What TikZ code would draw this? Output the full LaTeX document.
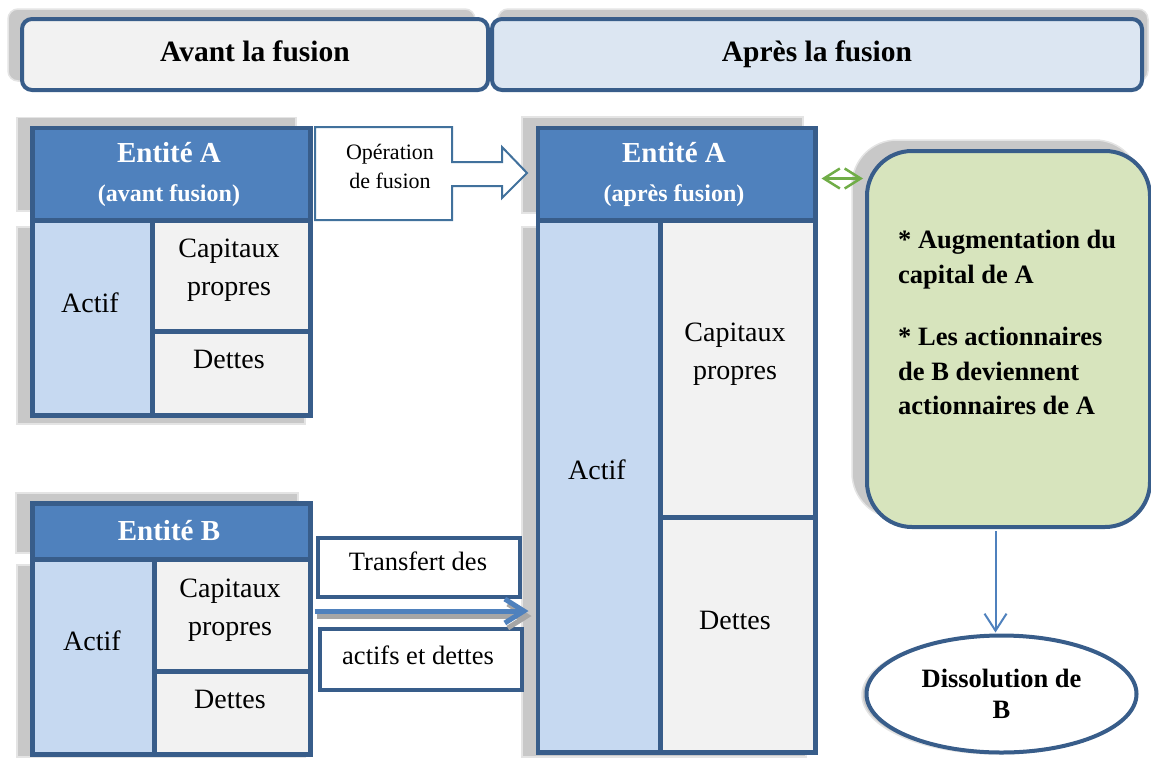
\documentclass[tikz,border=0pt]{standalone}
\usepackage{fontspec}
\setmainfont{Liberation Serif}
\usetikzlibrary{shapes.geometric,arrows.meta,calc}
\definecolor{dblue}{HTML}{385D8A}
\definecolor{mblue}{HTML}{4F81BD}
\definecolor{lblue}{HTML}{C6D9F1}
\definecolor{lgray}{HTML}{F2F2F2}
\definecolor{hblue}{HTML}{DCE6F2}
\definecolor{gfill}{HTML}{D7E4BD}
\definecolor{garr}{HTML}{70AD47}
\definecolor{oparr}{HTML}{41719C}
\definecolor{shgray}{HTML}{C8C8C8}
\definecolor{shline}{HTML}{E4E4E4}
\begin{document}
\begin{tikzpicture}[x=1pt,y=-1pt,
  shad/.style={fill=shgray, draw=shline, line width=1.5pt},
  hdrbox/.style={draw=dblue, line width=4pt, rounded corners=10pt, anchor=north west, inner sep=0pt,
    text height=20pt, text depth=6pt, font=\fontsize{29.5}{33}\selectfont\bfseries},
  titlebox/.style={draw=dblue, fill=mblue, line width=4.5pt, anchor=north west, inner sep=0pt},
  titletxt/.style={text=white, align=center, inner sep=0pt, font=\fontsize{29}{35}\selectfont\bfseries},
  cellbox/.style={draw=dblue, line width=4.5pt, inner sep=0pt, anchor=north west},
  celltxt/.style={font=\fontsize{28}{38}\selectfont, align=center, inner sep=0pt},
  trbox/.style={draw=dblue, fill=white, line width=4.5pt, inner sep=0pt, anchor=north west},
  trtxt/.style={font=\fontsize{26.5}{30}\selectfont, inner sep=0pt}
]
\useasboundingbox (0,0) rectangle (1151,758);

% ---------- shadows ----------
\draw[shad, rounded corners=10pt] (8,9) rectangle (475,81);
\draw[shad, rounded corners=10pt] (498,9) rectangle (1148,81);
\draw[shad] (17,117.5) rectangle (296,211);
\draw[shad] (17,227) rectangle (305,424);
\draw[shad] (522,117) rectangle (803,213);
\draw[shad] (522,227) rectangle (806,757);
\draw[shad] (16,493) rectangle (298,553);
\draw[shad] (17,565) rectangle (305,757);
\draw[shad, rounded corners=45pt] (852,140) rectangle (1140,518);
\draw[shad] (998,695) ellipse [x radius=136pt, y radius=59pt];

% ---------- headers ----------
\node[hdrbox, fill=lgray, minimum width=466pt, minimum height=71pt] (H1) at (20,17) {Avant la fusion};
\node[hdrbox, fill=hblue, minimum width=650pt, minimum height=71pt] (H2) at (490,17) {Après la fusion};

% ---------- Entité A (avant) ----------
\node[titlebox, minimum width=278pt, minimum height=92.5pt] (A1t) at (30,125.5) {};
\node[titletxt] (A1tt) at (169,174.5) {Entité A\\[4pt]{\fontsize{24}{28}\selectfont(avant fusion)}};
\node[cellbox, fill=lblue, minimum width=120pt, minimum height=195pt] (A1a) at (30,218) {};
\node[cellbox, fill=lgray, minimum width=158pt, minimum height=111pt] (A1c) at (150,218) {};
\node[cellbox, fill=lgray, minimum width=158pt, minimum height=84pt] (A1d) at (150,329) {};
\node[celltxt] (A1at) at (90,303) {Actif};
\node[celltxt] (A1ct) at (229,270.5) {Capitaux\\propres};
\node[celltxt] (A1dt) at (229,359) {Dettes};

% ---------- Entité A (après) ----------
\node[titlebox, minimum width=277.5pt, minimum height=92.5pt] (A2t) at (535.5,125.5) {};
\node[titletxt] (A2tt) at (674,174.5) {Entité A\\[4pt]{\fontsize{24}{28}\selectfont(après fusion)}};
\node[cellbox, fill=lblue, minimum width=122.5pt, minimum height=532pt] (A2a) at (535.5,218) {};
\node[cellbox, fill=lgray, minimum width=155pt, minimum height=297pt] (A2c) at (658,218) {};
\node[cellbox, fill=lgray, minimum width=155pt, minimum height=235pt] (A2d) at (658,515) {};
\node[celltxt] (A2at) at (597,470) {Actif};
\node[celltxt] (A2ct) at (735,354.5) {Capitaux\\propres};
\node[celltxt] (A2dt) at (735,620) {Dettes};

% ---------- Entité B ----------
\node[titlebox, minimum width=278pt, minimum height=56pt] (Bt) at (30,501) {};
\node[titletxt] (Btt) at (169,531) {Entité B};
\node[cellbox, fill=lblue, minimum width=122pt, minimum height=195pt] (Ba) at (30,557) {};
\node[cellbox, fill=lgray, minimum width=156pt, minimum height=112pt] (Bc) at (152,557) {};
\node[cellbox, fill=lgray, minimum width=156pt, minimum height=83pt] (Bd) at (152,669) {};
\node[celltxt] (Bat) at (92,641) {Actif};
\node[celltxt] (Bct) at (230,610) {Capitaux\\propres};
\node[celltxt] (Bdt) at (230,699.5) {Dettes};

% ---------- Opération de fusion ----------
\draw[oparr, fill=white, line width=2pt, line join=miter]
  (315,127) -- (452,127) -- (452,162) -- (502,162) -- (502,147) -- (527,173)
  -- (502,198) -- (502,186) -- (452,186) -- (452,220) -- (315,220) -- cycle;
\node[font=\fontsize{22}{29}\selectfont, align=center, inner sep=0pt] (op) at (390,166) {Opération\\de fusion};

% ---------- Transfert ----------
\node[trbox, minimum width=202pt, minimum height=59pt] (T1) at (315.5,535.5) {};
\node[trbox, minimum width=202pt, minimum height=61pt] (T2) at (317.5,626.5) {};
\node[trtxt] (T1t) at (418,561) {Transfert des};
\node[trtxt] (T2t) at (418,655) {actifs et dettes};
\coordinate (tr) at (420,611);
\draw[gray!70, line width=5pt, -{Straight Barb[length=19pt,width=24pt]}]
  ($(tr -| Bc.east)+(4,5)$) -- ($(tr -| A2a.west)+(-4,5)$);
\draw[mblue, line width=5pt, -{Straight Barb[length=19pt,width=24pt]}]
  ($(tr -| Bc.east)+(2,0)$) -- ($(tr -| A2a.west)+(-7,0)$);

% ---------- green box ----------
\node[draw=dblue, fill=gfill, line width=4pt, rounded corners=45pt, minimum width=283pt,
  minimum height=376pt, anchor=north west, inner sep=0pt] (green) at (865,149) {};
\node[font=\fontsize{26.5}{34.5}\selectfont\bfseries, align=left, anchor=north west, inner sep=0pt] (gtext) at (898,230)
  {* Augmentation du\\capital de A\\[28pt]* Les actionnaires\\de B deviennent\\actionnaires de A};
\coordinate (gy) at ([yshift=-4.5pt]A2t.east);
\draw[garr, line width=2.5pt, {Straight Barb[length=16pt,width=20pt]}-{Straight Barb[length=16pt,width=20pt]}]
  ($(gy)+(4,0)$) -- ($(gy -| green.west)+(-2,0)$);

% ---------- Dissolution ----------
\node[ellipse, draw=dblue, fill=white, line width=4pt, minimum width=270pt, minimum height=117pt,
  inner sep=0pt, align=center, font=\fontsize{26.5}{31}\selectfont\bfseries] (dis) at (1001.5,694) {Dissolution de\\B};
\draw[mblue, line width=2pt, -{Straight Barb[length=17pt,width=22pt]}]
  ($(dis.north |- green.south)+(-6,2)$) -- ($(dis.north)+(-6,-1)$);
\end{tikzpicture}
\end{document}
